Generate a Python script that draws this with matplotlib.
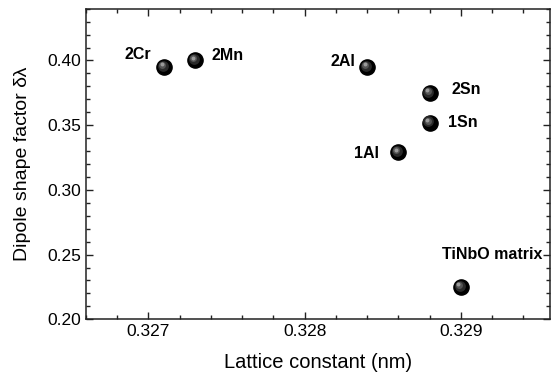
import numpy as np
import matplotlib.pyplot as plt
from matplotlib.ticker import MultipleLocator
from matplotlib.transforms import ScaledTranslation

plt.rcParams['font.family'] = ['Liberation Sans', 'DejaVu Sans']

# Dipole shape factor vs lattice constant
samples = ['2Cr', '2Mn', '2Al', '2Sn', '1Sn', '1Al', 'TiNbO matrix']
lattice = [0.3271, 0.3273, 0.3284, 0.3288, 0.3288, 0.3286, 0.3290]
shape_factor = [0.395, 0.400, 0.395, 0.375, 0.352, 0.329, 0.225]

# label offsets (pixels) and alignment per sample
offsets = [(-13, 12, 'right'), (16, 5, 'left'), (-12, 5, 'right'), (22, 3, 'left'),
           (18, 0, 'left'), (-19, -1, 'right'), (31, 32, 'center')]

fig = plt.figure(figsize=(5.53, 3.76), dpi=100)
ax = fig.add_axes([0.1555, 0.1508, 0.839, 0.826])

# shaded spheres: dark body plus a soft highlight towards the upper left
ax.scatter(lattice, shape_factor, s=120, color='black', zorder=3)
for size, grey, dx, dy in [(60, '#2a2a2a', -1.2, 1.2), (25, '#555555', -2.0, 2.0), (8, '#9a9a9a', -2.5, 2.5)]:
    shift = ax.transData + ScaledTranslation(dx / 100, dy / 100, fig.dpi_scale_trans)
    ax.plot(lattice, shape_factor, 'o', ls='none', ms=np.sqrt(size), color=grey,
            mec='none', zorder=4, transform=shift)

for name, x, y, (dx, dy, ha) in zip(samples, lattice, shape_factor, offsets):
    ax.annotate(name, (x, y), xytext=(dx, dy), textcoords='offset pixels',
                ha=ha, va='center', fontsize=11.5, fontweight='bold')

ax.set_xlim(0.3266, 0.32957)
ax.set_ylim(0.20, 0.44)
ax.xaxis.set_major_locator(MultipleLocator(0.001))
ax.xaxis.set_minor_locator(MultipleLocator(0.0002))
ax.yaxis.set_major_locator(MultipleLocator(0.05))
ax.yaxis.set_minor_locator(MultipleLocator(0.01))
ax.xaxis.set_major_formatter(plt.FuncFormatter(lambda v, p: f'{v:.3f}'))
ax.yaxis.set_major_formatter(plt.FuncFormatter(lambda v, p: f'{v:.2f}'))

ax.tick_params(which='both', direction='in', top=True, right=True, labelsize=12.5, width=1.0, color='#222222')
ax.tick_params(which='major', length=5)
ax.tick_params(which='minor', length=3)
for sp in ax.spines.values():
    sp.set_linewidth(1.1)
    sp.set_color('#222222')

ax.set_xlabel('Lattice constant (nm)', fontsize=14.5, labelpad=10)
ax.set_ylabel('Dipole shape factor δλ', fontsize=14, labelpad=12)

fig.savefig('out.png', dpi=100)
